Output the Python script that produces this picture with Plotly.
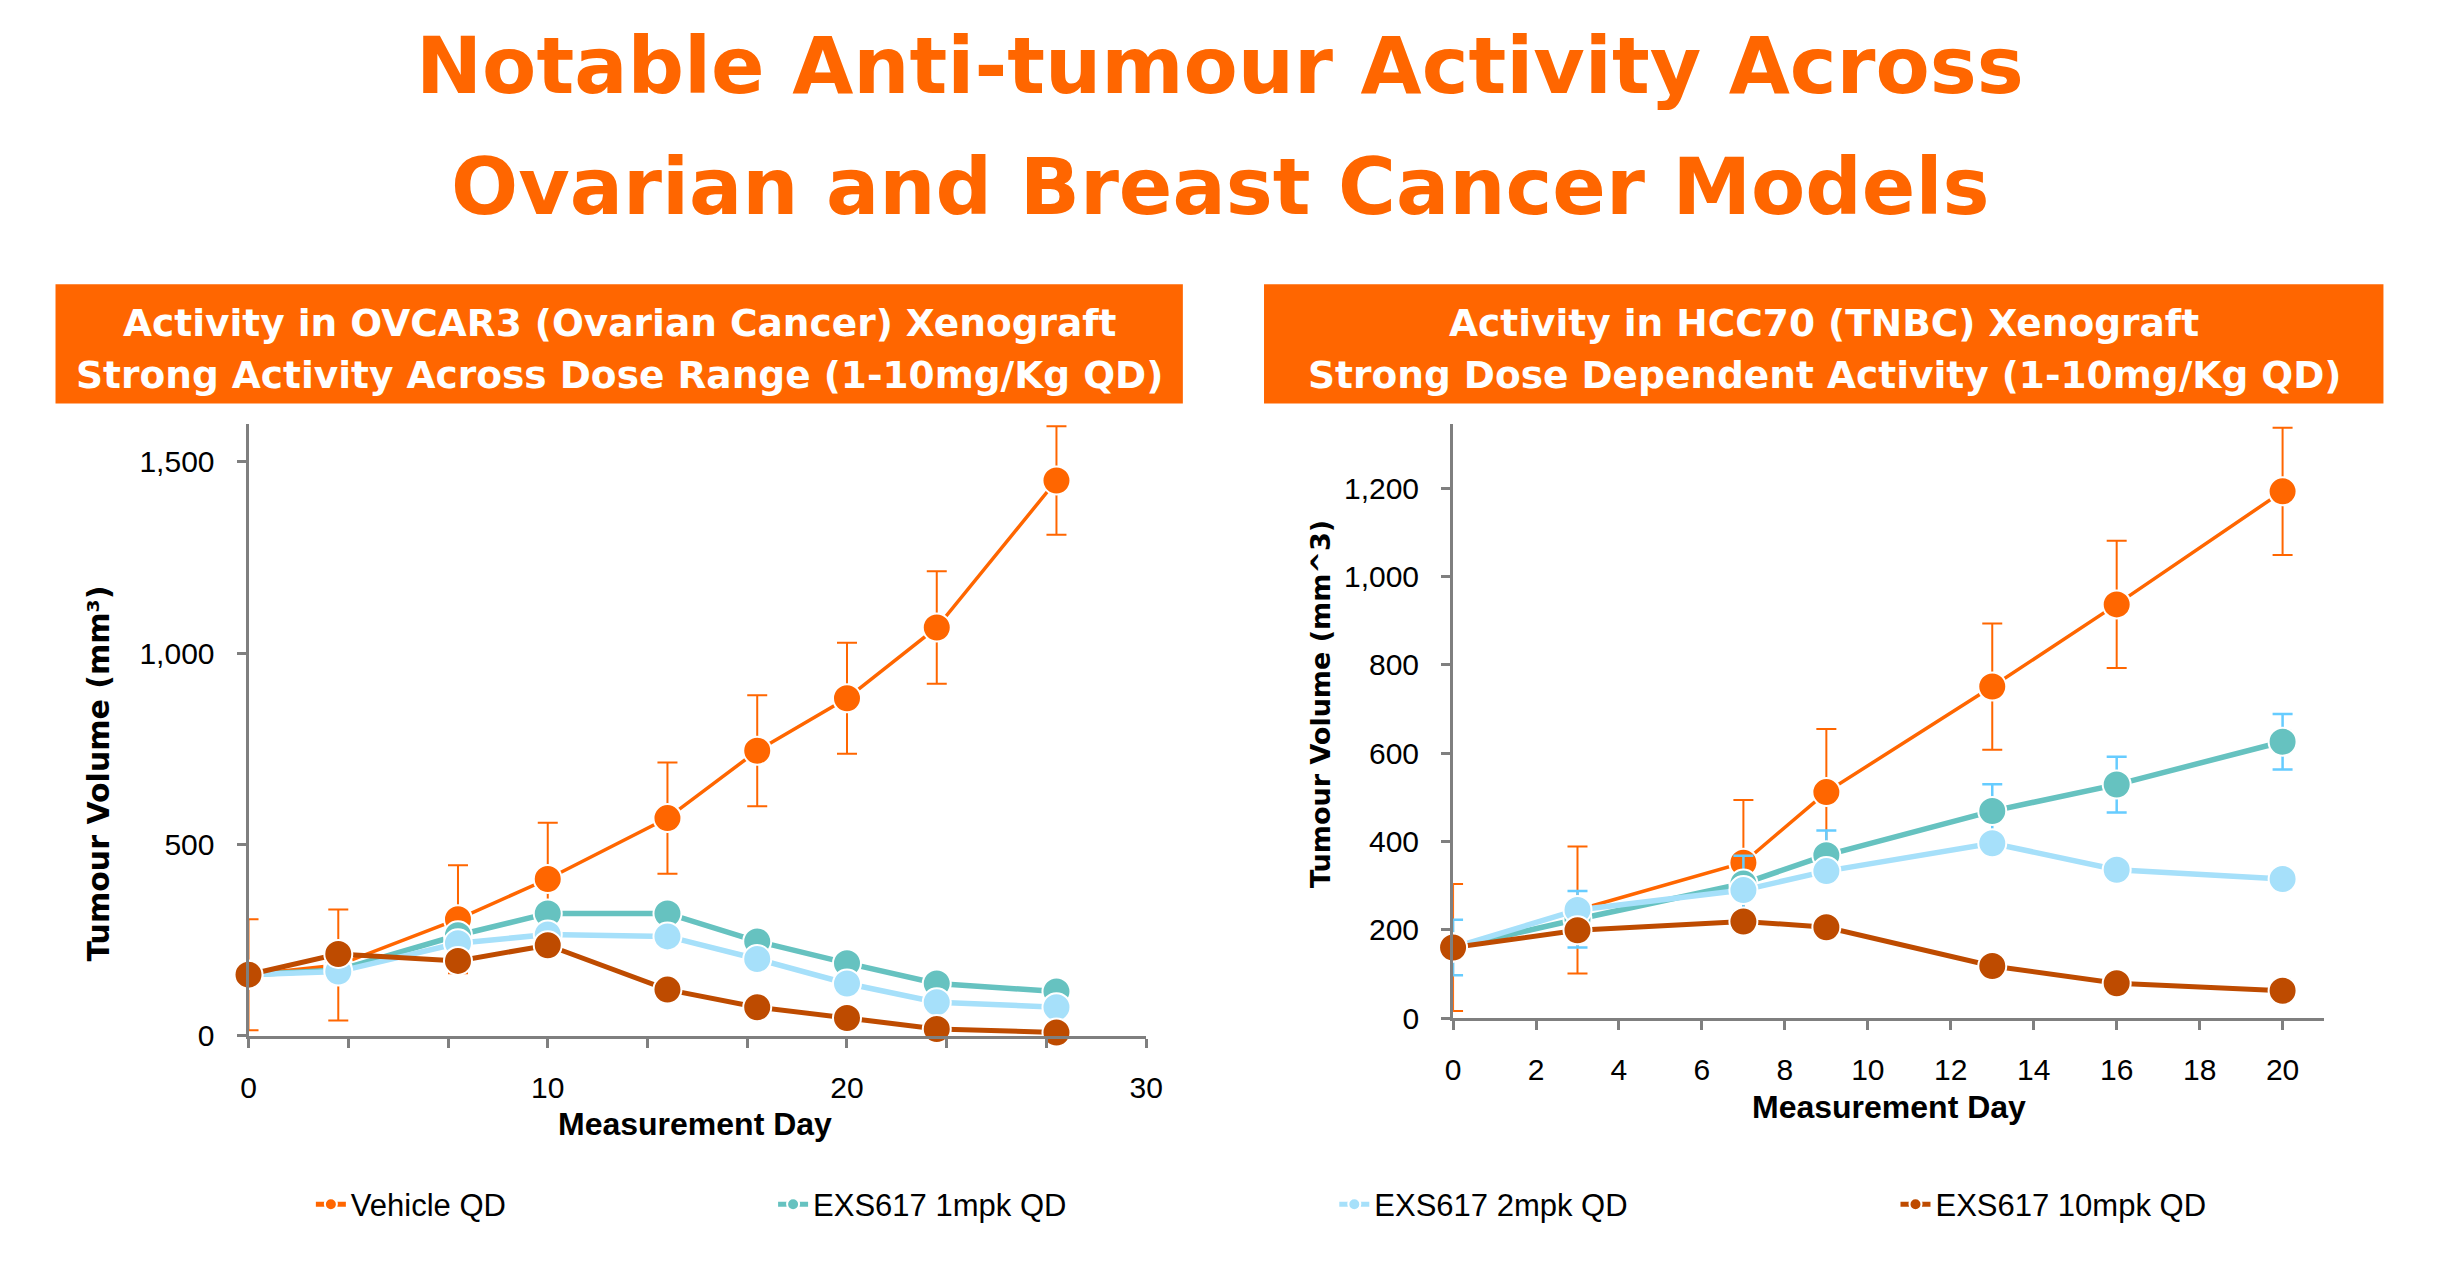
import plotly.graph_objects as go

W, H = 2444, 1268

# ---------------- data ----------------
series_names = ["Vehicle QD", "EXS617 1mpk QD", "EXS617 2mpk QD", "EXS617 10mpk QD"]

left_days = [0, 3, 7, 10, 14, 17, 20, 23, 27]
left_vehicle = [160, 185, 305, 410, 569, 745, 882, 1067, 1451]
left_vehicle_err = [145, 145, 141, 147, 145, 145, 145, 147, 142]
left_1mpk = [160, 172, 263, 320, 320, 247, 190, 137, 116]
left_2mpk = [160, 168, 242, 265, 260, 201, 137, 88, 75]
left_10mpk = [160, 214, 196, 237, 121, 75, 47, 18, 9]

right_days = [0, 3, 7, 9, 13, 16, 20]
right_vehicle = [160, 245, 352, 512, 751, 937, 1193]
right_vehicle_err = [144, 144, 142, 143, 143, 144, 144]
right_1mpk = [160, 224, 305, 369, 469, 529, 626]
right_1mpk_err = [63, 64, 63, 56, 61, 63, 63]
right_2mpk = [160, 245, 290, 333, 396, 336, 315]
right_10mpk = [160, 199, 219, 206, 118, 79, 62]

left_xticks = [0, 10, 20, 30]
left_yticks = [0, 500, 1000, 1500]
right_xticks = list(range(0, 21, 2))
right_yticks = list(range(0, 1201, 200))

main_title = ["Notable Anti-tumour Activity Across", "Ovarian and Breast Cancer Models"]
left_header = ["Activity in OVCAR3 (Ovarian Cancer) Xenograft",
               "Strong Activity Across Dose Range (1-10mg/Kg QD)"]
right_header = ["Activity in HCC70 (TNBC) Xenograft",
                "Strong Dose Dependent Activity (1-10mg/Kg QD)"]

# ---------------- style ----------------
ORANGE = "#FF6600"
TEAL = "#66C2C0"
LBLUE = "#A6E0FA"
DARK = "#BE4B00"
ERRBLUE = "#66CCFF"
AXIS = "#7F7F7F"
colors = [ORANGE, TEAL, LBLUE, DARK]
line_w = [3.5, 5.5, 5.5, 5]
legend_ids = ["legend", "legend2", "legend3", "legend4"]
legend_x_px = [306, 773, 1340, 1907]


def X(px):
    return px / W


def Y(py):
    return 1 - py / H


fig = go.Figure()

left_sets = [left_vehicle, left_1mpk, left_2mpk, left_10mpk]
left_errs = [left_vehicle_err, None, None, None]
right_sets = [right_vehicle, right_1mpk, right_2mpk, right_10mpk]
right_errs = [right_vehicle_err, right_1mpk_err, None, None]
err_colors = [ORANGE, ERRBLUE, None, None]
err_thick = [2, 2.5, 0, 0]

for i, name in enumerate(series_names):
    err = None
    if left_errs[i] is not None:
        err = dict(type="data", array=left_errs[i], visible=True,
                   color=err_colors[i], thickness=err_thick[i], width=10)
    fig.add_trace(go.Scatter(
        x=left_days, y=left_sets[i], name=name, legendgroup=name,
        legend=legend_ids[i],
        mode="lines+markers", xaxis="x", yaxis="y",
        line=dict(color=colors[i], width=line_w[i]),
        marker=dict(size=28, color=colors[i], line=dict(color="white", width=2)),
        error_y=err, cliponaxis=False, showlegend=True))

for i, name in enumerate(series_names):
    err = None
    if right_errs[i] is not None:
        err = dict(type="data", array=right_errs[i], visible=True,
                   color=err_colors[i], thickness=err_thick[i], width=10)
    fig.add_trace(go.Scatter(
        x=right_days, y=right_sets[i], name=name, legendgroup=name,
        legend=legend_ids[i],
        mode="lines+markers", xaxis="x2", yaxis="y2",
        line=dict(color=colors[i], width=line_w[i]),
        marker=dict(size=28, color=colors[i], line=dict(color="white", width=2)),
        error_y=err, cliponaxis=False, showlegend=False))

tickfont = dict(family="Liberation Sans, Arial, sans-serif", size=30, color="black")
axis_common = dict(showgrid=False, zeroline=False, showline=True, linecolor=AXIS,
                   linewidth=3, ticks="outside", tickcolor=AXIS, tickwidth=3,
                   ticklen=9, tickfont=tickfont, fixedrange=True)

fig.update_layout(
    width=W, height=H,
    margin=dict(l=0, r=0, t=0, b=0),
    paper_bgcolor="white", plot_bgcolor="white",
    xaxis=dict(axis_common, domain=[X(243), X(1150)], range=[0, 30],
               tickvals=left_xticks, anchor="y", ticklabelstandoff=14,
               minor=dict(dtick=10 / 3, tick0=0, ticks="outside", ticklen=9,
                          tickcolor=AXIS, tickwidth=3)),
    yaxis=dict(axis_common, domain=[Y(1050), Y(430)], range=[0, 1598],
               tickvals=left_yticks, tickformat=",", anchor="x",
               ticklabelstandoff=16),
    xaxis2=dict(axis_common, domain=[X(1460), X(2340)], range=[0, 21],
                tickvals=right_xticks, anchor="y2", ticklabelstandoff=14),
    yaxis2=dict(axis_common, domain=[Y(1032), Y(430)], range=[0, 1345],
                tickvals=right_yticks, tickformat=",", anchor="x2",
                ticklabelstandoff=16),
)

legend_font = dict(family="Liberation Sans, Arial, sans-serif", size=31, color="black")
for lid, lx in zip(legend_ids, legend_x_px):
    fig.update_layout({lid: dict(orientation="h", x=X(lx), xanchor="left", y=Y(1221),
                                 yanchor="middle", font=legend_font,
                                 itemsizing="constant", bgcolor="rgba(0,0,0,0)")})

shapes = [
    dict(type="rect", xref="paper", yref="paper", x0=X(48), x1=X(1187),
         y0=Y(409), y1=Y(288), fillcolor=ORANGE, line=dict(width=0), layer="below"),
    dict(type="rect", xref="paper", yref="paper", x0=X(1269), x1=X(2400),
         y0=Y(409), y1=Y(288), fillcolor=ORANGE, line=dict(width=0), layer="below"),
]
fig.update_layout(shapes=shapes)

TITLE_FONT = "'DejaVu Sans', Verdana, sans-serif"
ann = []
ann.append(dict(text="<b>%s</b>" % main_title[0], x=X(1225), y=Y(67),
                font=dict(family=TITLE_FONT, size=79, color=ORANGE)))
ann.append(dict(text="<b>%s</b>" % main_title[1], x=X(1225), y=Y(190),
                font=dict(family=TITLE_FONT, size=79, color=ORANGE)))
for hdr, cx in ((left_header, 618), (right_header, 1835)):
    ann.append(dict(text="<b>%s</b>" % hdr[0], x=X(cx), y=Y(327),
                    font=dict(family=TITLE_FONT, size=37.5, color="white")))
    ann.append(dict(text="<b>%s</b>" % hdr[1], x=X(cx), y=Y(380),
                    font=dict(family=TITLE_FONT, size=37.5, color="white")))
# axis titles
LBL = "'DejaVu Sans', Verdana, sans-serif"
ann.append(dict(text="<b>Tumour Volume (mm³)</b>", x=X(91), y=Y(784), textangle=-90,
                font=dict(family=LBL, size=30, color="black")))
ann.append(dict(text="<b>Tumour Volume (mm^3)</b>", x=X(1326), y=Y(713), textangle=-90,
                font=dict(family=LBL, size=27, color="black")))
ann.append(dict(text="<b>Measurement Day</b>", x=X(694), y=Y(1139),
                font=dict(family="Liberation Sans, Arial, sans-serif", size=32,
                          color="black")))
ann.append(dict(text="<b>Measurement Day</b>", x=X(1900), y=Y(1122),
                font=dict(family="Liberation Sans, Arial, sans-serif", size=32,
                          color="black")))
for a in ann:
    a.update(xref="paper", yref="paper", showarrow=False, xanchor="center",
             yanchor="middle")
fig.update_layout(annotations=ann)

fig.write_html("out.html")
